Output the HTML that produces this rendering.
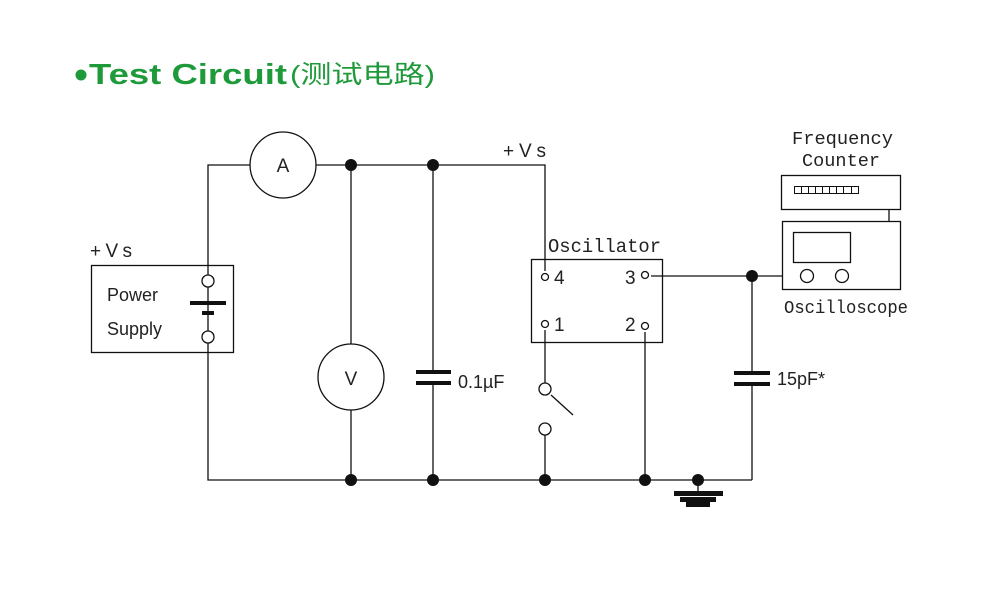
<!DOCTYPE html><html><head><style>body{margin:0;background:#fff}.s{font-family:"Liberation Sans","Noto Sans CJK SC",sans-serif}.m{font-family:"Liberation Mono",monospace}</style></head><body>
<svg width="989" height="611" viewBox="0 0 989 611" xmlns="http://www.w3.org/2000/svg">
<circle cx="81" cy="75" r="5.5" fill="#1f9a3a"/>
<text class="s" x="89" y="84" font-size="29" font-weight="bold" fill="#1f9a3a" textLength="198" lengthAdjust="spacingAndGlyphs">Test Circuit</text>
<text class="s" x="290" y="83" font-size="25" fill="#1f9a3a" textLength="145" lengthAdjust="spacingAndGlyphs">(测试电路)</text>
<g stroke="#111" stroke-width="1.3" fill="none">
<polyline points="208,275 208,165 545,165 545,271"/>
<polyline points="208,343 208,480 752,480"/>
<line x1="752" y1="480" x2="752" y2="384"/><line x1="752" y1="373" x2="752" y2="276"/>
<line x1="651" y1="276" x2="783" y2="276"/>
<line x1="645" y1="332" x2="645" y2="480"/>
<line x1="545" y1="330" x2="545" y2="383"/><line x1="545" y1="435" x2="545" y2="480"/>
<line x1="551" y1="395" x2="573" y2="415"/>
<line x1="351" y1="165" x2="351" y2="480"/>
<line x1="433" y1="165" x2="433" y2="372"/><line x1="433" y1="383" x2="433" y2="480"/>
<line x1="208" y1="287" x2="208" y2="331"/>
<line x1="889" y1="209" x2="889" y2="221"/>
<line x1="698" y1="480" x2="698" y2="492"/>
<rect x="91.5" y="265.5" width="142" height="87"/>
<rect x="531.5" y="259.5" width="131" height="83"/>
<rect x="781.5" y="175.5" width="119" height="34"/>
<rect x="782.5" y="221.5" width="118" height="68"/>
<rect x="793.5" y="232.5" width="57" height="30"/>
</g>
<g fill="#fff" stroke="#111" stroke-width="1.3">
<circle cx="283" cy="165" r="33"/><circle cx="351" cy="377" r="33"/>
<circle cx="208" cy="281" r="6"/><circle cx="208" cy="337" r="6"/>
<circle cx="545" cy="389" r="6"/><circle cx="545" cy="429" r="6"/>
<circle cx="545" cy="277" r="3.5"/><circle cx="645" cy="275" r="3.5"/>
<circle cx="545" cy="324" r="3.5"/><circle cx="645" cy="326" r="3.5"/>
<circle cx="807" cy="276" r="6.5"/><circle cx="842" cy="276" r="6.5"/>
</g>
<g fill="#111">
<circle cx="351" cy="165" r="6"/><circle cx="433" cy="165" r="6"/>
<circle cx="351" cy="480" r="6"/><circle cx="433" cy="480" r="6"/><circle cx="545" cy="480" r="6"/><circle cx="645" cy="480" r="6"/><circle cx="698" cy="480" r="6"/>
<circle cx="752" cy="276" r="6"/>
<rect x="190" y="301" width="36" height="4"/><rect x="202" y="311" width="12" height="4"/>
<rect x="416" y="370" width="35" height="4"/><rect x="416" y="381" width="35" height="4"/>
<rect x="734" y="371" width="36" height="4"/><rect x="734" y="382" width="36" height="4"/>
<rect x="674" y="491" width="49" height="5"/><rect x="680" y="497" width="36" height="5"/><rect x="686" y="502" width="24" height="5"/>
</g>
<g fill="none" stroke="#111" stroke-width="1">
<rect x="794.5" y="186.5" width="64" height="7"/>
<path d="M801.5 186v8M808.5 186v8M815.5 186v8M822.5 186v8M829.5 186v8M836.5 186v8M843.5 186v8M851.5 186v8"/>
</g>
<g fill="#222" font-size="19">
<text class="s" x="283" y="172" text-anchor="middle">A</text>
<text class="s" x="351" y="385" text-anchor="middle">V</text>
<text class="s" x="90" y="257" textLength="42">+Vs</text>
<text class="s" x="503" y="157" textLength="43">+Vs</text>
<text class="s" x="107" y="301" font-size="18">Power</text>
<text class="s" x="107" y="335" font-size="18">Supply</text>
<text class="s" x="458" y="388" font-size="18">0.1µF</text>
<text class="s" x="777" y="385" font-size="18">15pF*</text>
<text class="s" x="554" y="284">4</text><text class="s" x="625" y="284">3</text>
<text class="s" x="554" y="331">1</text><text class="s" x="625" y="331">2</text>
<text class="m" x="548" y="252" font-size="19" textLength="113" lengthAdjust="spacingAndGlyphs">Oscillator</text>
<text class="m" x="792" y="144" font-size="18" textLength="101" lengthAdjust="spacingAndGlyphs">Frequency</text>
<text class="m" x="802" y="166" font-size="18" textLength="78" lengthAdjust="spacingAndGlyphs">Counter</text>
<text class="m" x="784" y="313" font-size="18" textLength="124" lengthAdjust="spacingAndGlyphs">Oscilloscope</text>
</g>
</svg></body></html>
